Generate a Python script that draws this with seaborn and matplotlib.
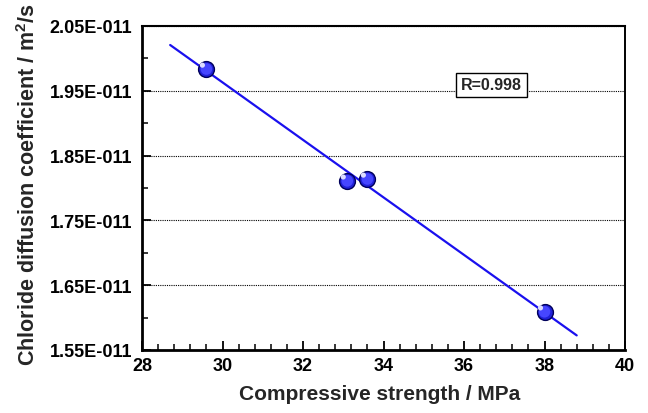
import numpy as np
import pandas as pd
import matplotlib
matplotlib.use("Agg")
import matplotlib.pyplot as plt
import seaborn as sns
from matplotlib.ticker import MultipleLocator, FuncFormatter

# Data
strength = [29.6, 33.1, 33.6, 38.0]
diffusion = [1.9836e-11, 1.811e-11, 1.8139e-11, 1.609e-11]
fit_range = [28.7, 38.8]
y_ticks = [1.55e-11, 1.65e-11, 1.75e-11, 1.85e-11, 1.95e-11, 2.05e-11]
x_ticks = [28, 30, 32, 34, 36, 38, 40]
r_label = "R=0.998"

sns.set_theme(style="ticks")
plt.rcParams['font.family'] = ['Liberation Sans', 'DejaVu Sans']
plt.rcParams['font.weight'] = 'bold'
plt.rcParams['mathtext.fontset'] = 'custom'
plt.rcParams['mathtext.bf'] = 'Liberation Sans:bold'
plt.rcParams['mathtext.rm'] = 'Liberation Sans:bold'

fig = plt.figure(figsize=(6.48, 4.14), dpi=100)
ax = fig.add_axes([142/648, 1-351/414, (625-142)/648, (351-27)/414])

df = pd.DataFrame({"x": strength, "y": diffusion})

# linear fit line
coef = np.polyfit(df["x"], df["y"], 1)
xs = np.array(fit_range)
fit_df = pd.DataFrame({"x": xs, "y": np.polyval(coef, xs)})
sns.lineplot(data=fit_df, x="x", y="y", ax=ax, color="#1a10ee", lw=1.6, zorder=3)

# sphere-like markers
sns.scatterplot(data=df, x="x", y="y", ax=ax, s=130, color="#2020d8",
                edgecolor="#00005a", linewidth=1.0, zorder=4)
sns.scatterplot(data=df, x="x", y="y", ax=ax, s=70, color="#4646ff",
                edgecolor="none", zorder=5)
ax.scatter(np.array(strength) - 0.1, np.array(diffusion) + 0.006e-11, s=14,
           color="#dcdcff", edgecolor="none", zorder=6)

ax.set_xlim(28, 40)
ax.set_ylim(1.55e-11, 2.05e-11)
ax.set_xticks(x_ticks)
ax.set_yticks(y_ticks)
ax.xaxis.set_minor_locator(MultipleLocator(0.4))
ax.yaxis.set_minor_locator(MultipleLocator(0.05e-11))
ax.yaxis.set_major_formatter(FuncFormatter(lambda v, p: f"{v/1e-11:.2f}E-011"))
ax.yaxis.get_offset_text().set_visible(False)

ax.grid(axis="y", which="major", linestyle=(0, (1, 1)), color="black", lw=0.8)
ax.tick_params(axis="both", which="major", direction="in", length=6.5, width=1.3,
               labelsize=13, colors="black")
ax.tick_params(axis="y", which="major", pad=7)
ax.tick_params(axis="x", which="major", pad=5)
ax.tick_params(axis="both", which="minor", direction="in", length=4.2, width=1.1,
               colors="black")
ax.tick_params(axis="x", which="both", top=False)
ax.tick_params(axis="y", which="both", right=False)
for lab in ax.get_xticklabels() + ax.get_yticklabels():
    lab.set_fontweight("bold")

for s in ["left", "bottom"]:
    ax.spines[s].set_linewidth(2.0)
ax.spines["right"].set_linewidth(1.4)
ax.spines["top"].set_linewidth(1.5)
for s in ax.spines.values():
    s.set_color("black")

ax.set_xlabel("Compressive strength / MPa", fontsize=15, fontweight="bold")
ax.xaxis.set_label_coords(0.493, -0.105)
ax.xaxis.label.set_va("top")
ax.set_ylabel("Chloride diffusion coefficient / m$^\\mathbf{2}$/s", fontsize=15.5,
              fontweight="bold")
ax.yaxis.set_label_coords(-0.235, 0.512)
ax.yaxis.label.set_va("center")

ax.text(0.724, 0.818, r_label, transform=ax.transAxes, ha="center", va="center",
        fontsize=11.5, fontweight="bold",
        bbox=dict(boxstyle="square,pad=0.3", facecolor="white", edgecolor="black", lw=1.0),
        zorder=7)

fig.savefig("out.png", dpi=100)
